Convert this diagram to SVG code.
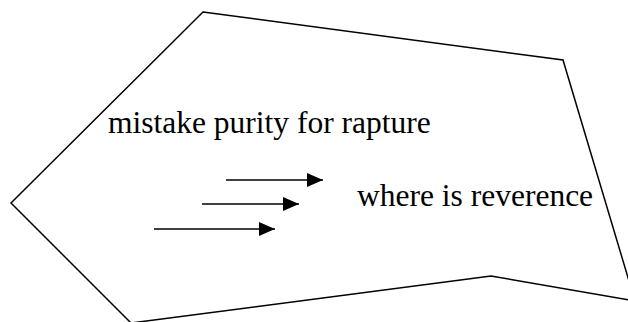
<svg xmlns="http://www.w3.org/2000/svg" width="628" height="322" viewBox="0 0 628 322">
<style>
.edge{fill:none;stroke:#000;stroke-width:1.5}
.lbl{font-family:"Liberation Serif","Times New Roman",serif;font-size:31.5px;fill:#000}
</style>
<defs>
<marker id="ah" markerUnits="userSpaceOnUse" markerWidth="16" markerHeight="14" refX="16" refY="7" orient="auto">
<path d="M0,0 L16,7 L0,14 Z" fill="#000"/>
</marker>
</defs>
<rect width="628" height="322" fill="#fff"/>
<g id="shape">
<polygon class="edge" points="203,12 563,60 635,301 491,276 131,323 11,203"/>
</g>
<g id="label1"><text class="lbl" x="108" y="133">mistake purity for rapture</text></g>
<g id="label2"><text class="lbl" x="357" y="206">where is reverence</text></g>
<g id="connectors">
<line class="edge" x1="226" y1="180" x2="323" y2="180" marker-end="url(#ah)"/>
<line class="edge" x1="202" y1="204" x2="299" y2="204" marker-end="url(#ah)"/>
<line class="edge" x1="154" y1="229" x2="275" y2="229" marker-end="url(#ah)"/>
</g>
</svg>
